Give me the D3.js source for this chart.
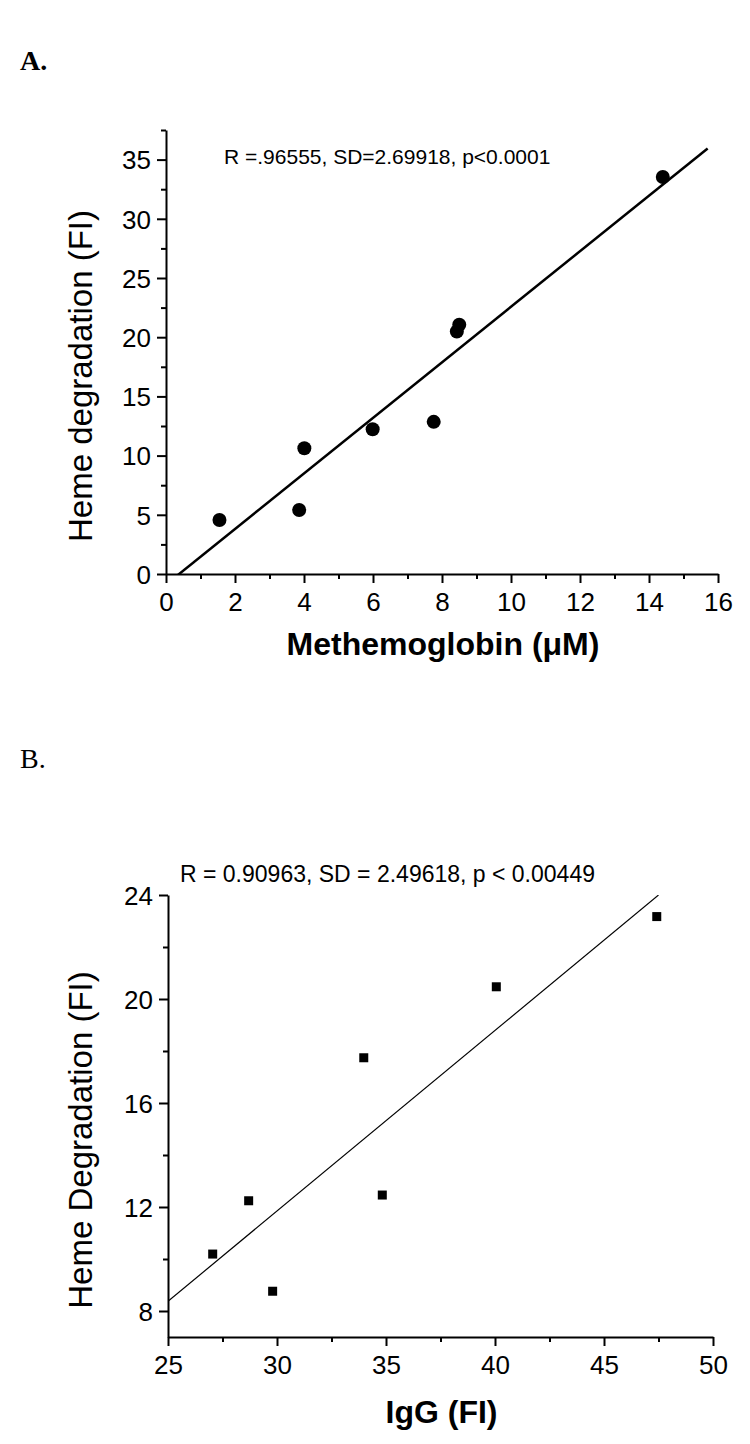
<!DOCTYPE html>
<html>
<head>
<meta charset="utf-8">
<script src="https://cdn.jsdelivr.net/npm/d3@7"></script>
<style>
  html, body { margin: 0; padding: 0; background: #fff; }
  svg { display: block; }
  text { font-family: "Liberation Sans", Arial, sans-serif; fill: #000; }
</style>
</head>
<body>
<svg id="chart" width="750" height="1444"></svg>
<script>
// ---------- Panel A data ----------
const methemoglobinA = [1.55, 3.86, 4.01, 5.99, 7.76, 8.43, 8.50, 14.40];
const hemeDegA       = [4.56, 5.41, 10.62, 12.23, 12.85, 20.48, 21.05, 33.53];
const xDomainA = [0, 16];
const yDomainA = [0, 37.5];
const xMajorA = [0, 2, 4, 6, 8, 10, 12, 14, 16];
const xMinorA = [1, 3, 5, 7, 9, 11, 13, 15];
const yMajorA = [0, 5, 10, 15, 20, 25, 30, 35];
const yMinorA = [2.5, 7.5, 12.5, 17.5, 22.5, 27.5, 32.5, 37.5];
const fitRangeA = [0, 15.7];
const statsA = "R =.96555, SD=2.69918, p<0.0001";

// ---------- Panel B data ----------
const iggB     = [27.05, 28.70, 29.80, 33.98, 34.83, 40.06, 47.42];
const hemeDegB = [10.19, 12.24, 8.76, 17.74, 12.46, 20.47, 23.17];
const xDomainB = [25, 50];
const yDomainB = [7, 24];
const xMajorB = [25, 30, 35, 40, 45, 50];
const xMinorB = [27.5, 32.5, 37.5, 42.5, 47.5];
const yMajorB = [8, 12, 16, 20, 24];
const yMinorB = [10, 14, 18, 22];
const fitRangeB = [25, 47.5];
const statsB = "R = 0.90963, SD = 2.49618, p < 0.00449";

const svg = d3.select("#chart");

function linFit(xs, ys) {
  const mx = d3.mean(xs), my = d3.mean(ys);
  let sxy = 0, sxx = 0;
  xs.forEach((x, i) => { sxy += (x - mx) * (ys[i] - my); sxx += (x - mx) * (x - mx); });
  const b = sxy / sxx;
  return { slope: b, intercept: my - b * mx };
}

function panel(cfg) {
  const g = svg.append("g");
  const x = d3.scaleLinear().domain(cfg.xDomain).range([cfg.left, cfg.right]);
  const y = d3.scaleLinear().domain(cfg.yDomain).range([cfg.bottom, cfg.top]);

  // clip
  const clipId = "clip" + cfg.id;
  svg.append("clipPath").attr("id", clipId).append("rect")
    .attr("x", cfg.left).attr("y", cfg.top)
    .attr("width", cfg.right - cfg.left).attr("height", cfg.bottom - cfg.top);

  const styleAxis = sel => {
    sel.selectAll("path.domain").attr("stroke", "#000").attr("stroke-width", cfg.axisW);
    sel.selectAll(".tick line").attr("stroke", "#000").attr("stroke-width", cfg.axisW);
    sel.selectAll(".tick text").style("font-size", cfg.tickFont + "px")
      .style("font-family", '"Liberation Sans", Arial, sans-serif').attr("fill", "#000");
  };

  // minor ticks
  g.append("g").attr("transform", `translate(0,${cfg.bottom})`)
    .call(d3.axisBottom(x).tickValues(cfg.xMinor).tickFormat("").tickSize(5).tickSizeOuter(0))
    .call(styleAxis).call(s => s.select("path.domain").remove());
  g.append("g").attr("transform", `translate(${cfg.left},0)`)
    .call(d3.axisLeft(y).tickValues(cfg.yMinor).tickFormat("").tickSize(5).tickSizeOuter(0))
    .call(styleAxis).call(s => s.select("path.domain").remove());

  // major axes
  const xa = g.append("g").attr("transform", `translate(0,${cfg.bottom})`)
    .call(d3.axisBottom(x).tickValues(cfg.xMajor).tickFormat(d3.format("d")).tickSize(9).tickSizeOuter(0).tickPadding(8))
    .call(styleAxis);
  xa.selectAll(".tick text").attr("dy", null).attr("y", 37).attr("dominant-baseline", "auto");
  const ya = g.append("g").attr("transform", `translate(${cfg.left},0)`)
    .call(d3.axisLeft(y).tickValues(cfg.yMajor).tickFormat(d3.format("d")).tickSize(9).tickSizeOuter(0).tickPadding(6))
    .call(styleAxis);
  ya.selectAll(".tick text").attr("dy", "0.36em");

  // fit line
  const fit = linFit(cfg.xs, cfg.ys);
  const fitPts = cfg.fitRange.map(v => [v, fit.intercept + fit.slope * v]);
  g.append("path")
    .attr("clip-path", `url(#${clipId})`)
    .attr("d", d3.line().x(d => x(d[0])).y(d => y(d[1]))(fitPts))
    .attr("stroke", "#000").attr("stroke-width", cfg.fitW).attr("fill", "none");

  // points
  const pts = cfg.xs.map((v, i) => [v, cfg.ys[i]]);
  if (cfg.marker === "circle") {
    g.selectAll("circle.pt").data(pts).join("circle").attr("class", "pt")
      .attr("cx", d => x(d[0])).attr("cy", d => y(d[1])).attr("r", 7).attr("fill", "#000");
  } else {
    const s = 9;
    g.selectAll("rect.pt").data(pts).join("rect").attr("class", "pt")
      .attr("x", d => x(d[0]) - s / 2).attr("y", d => y(d[1]) - s / 2)
      .attr("width", s).attr("height", s).attr("fill", "#000");
  }

  // stats text
  g.append("text").attr("x", cfg.statsX).attr("y", cfg.statsY)
    .style("font-size", cfg.statsFont + "px").text(cfg.stats);

  // axis titles
  g.append("text").attr("x", (cfg.left + cfg.right) / 2 + 1).attr("y", cfg.xTitleY)
    .attr("text-anchor", "middle").style("font-size", cfg.xTitleFont + "px")
    .style("font-weight", "bold").text(cfg.xTitle);
  g.append("text")
    .attr("transform", `translate(${cfg.yTitleX},${cfg.yTitleY}) rotate(-90)`)
    .attr("text-anchor", "middle").style("font-size", cfg.yTitleFont + "px")
    .text(cfg.yTitle);

  // panel letter
  g.append("text").attr("x", 20).attr("y", cfg.letterY)
    .style("font-family", '"Liberation Serif", "Times New Roman", serif')
    .style("font-size", "28px").style("font-weight", cfg.letterBold ? "bold" : "normal")
    .text(cfg.letter);
}

panel({
  id: "A", left: 166, right: 718, top: 130, bottom: 574,
  xDomain: xDomainA, yDomain: yDomainA,
  xMajor: xMajorA, xMinor: xMinorA, yMajor: yMajorA, yMinor: yMinorA,
  xs: methemoglobinA, ys: hemeDegA, fitRange: fitRangeA,
  marker: "circle", axisW: 2, fitW: 2.5, tickFont: 26,
  stats: statsA, statsX: 224, statsY: 164, statsFont: 21,
  xTitle: "Methemoglobin (\u03BCM)", xTitleY: 655, xTitleFont: 32,
  yTitle: "Heme degradation (FI)", yTitleX: 92, yTitleY: 376, yTitleFont: 33,
  letter: "A.", letterY: 70, letterBold: true
});

panel({
  id: "B", left: 168, right: 713, top: 895, bottom: 1337,
  xDomain: xDomainB, yDomain: yDomainB,
  xMajor: xMajorB, xMinor: xMinorB, yMajor: yMajorB, yMinor: yMinorB,
  xs: iggB, ys: hemeDegB, fitRange: fitRangeB,
  marker: "square", axisW: 2, fitW: 1.2, tickFont: 26,
  stats: statsB, statsX: 180, statsY: 882, statsFont: 23,
  xTitle: "IgG (FI)", xTitleY: 1423, xTitleFont: 32,
  yTitle: "Heme Degradation (FI)", yTitleX: 92, yTitleY: 1140, yTitleFont: 33,
  letter: "B.", letterY: 768, letterBold: false
});
</script>
</body>
</html>
